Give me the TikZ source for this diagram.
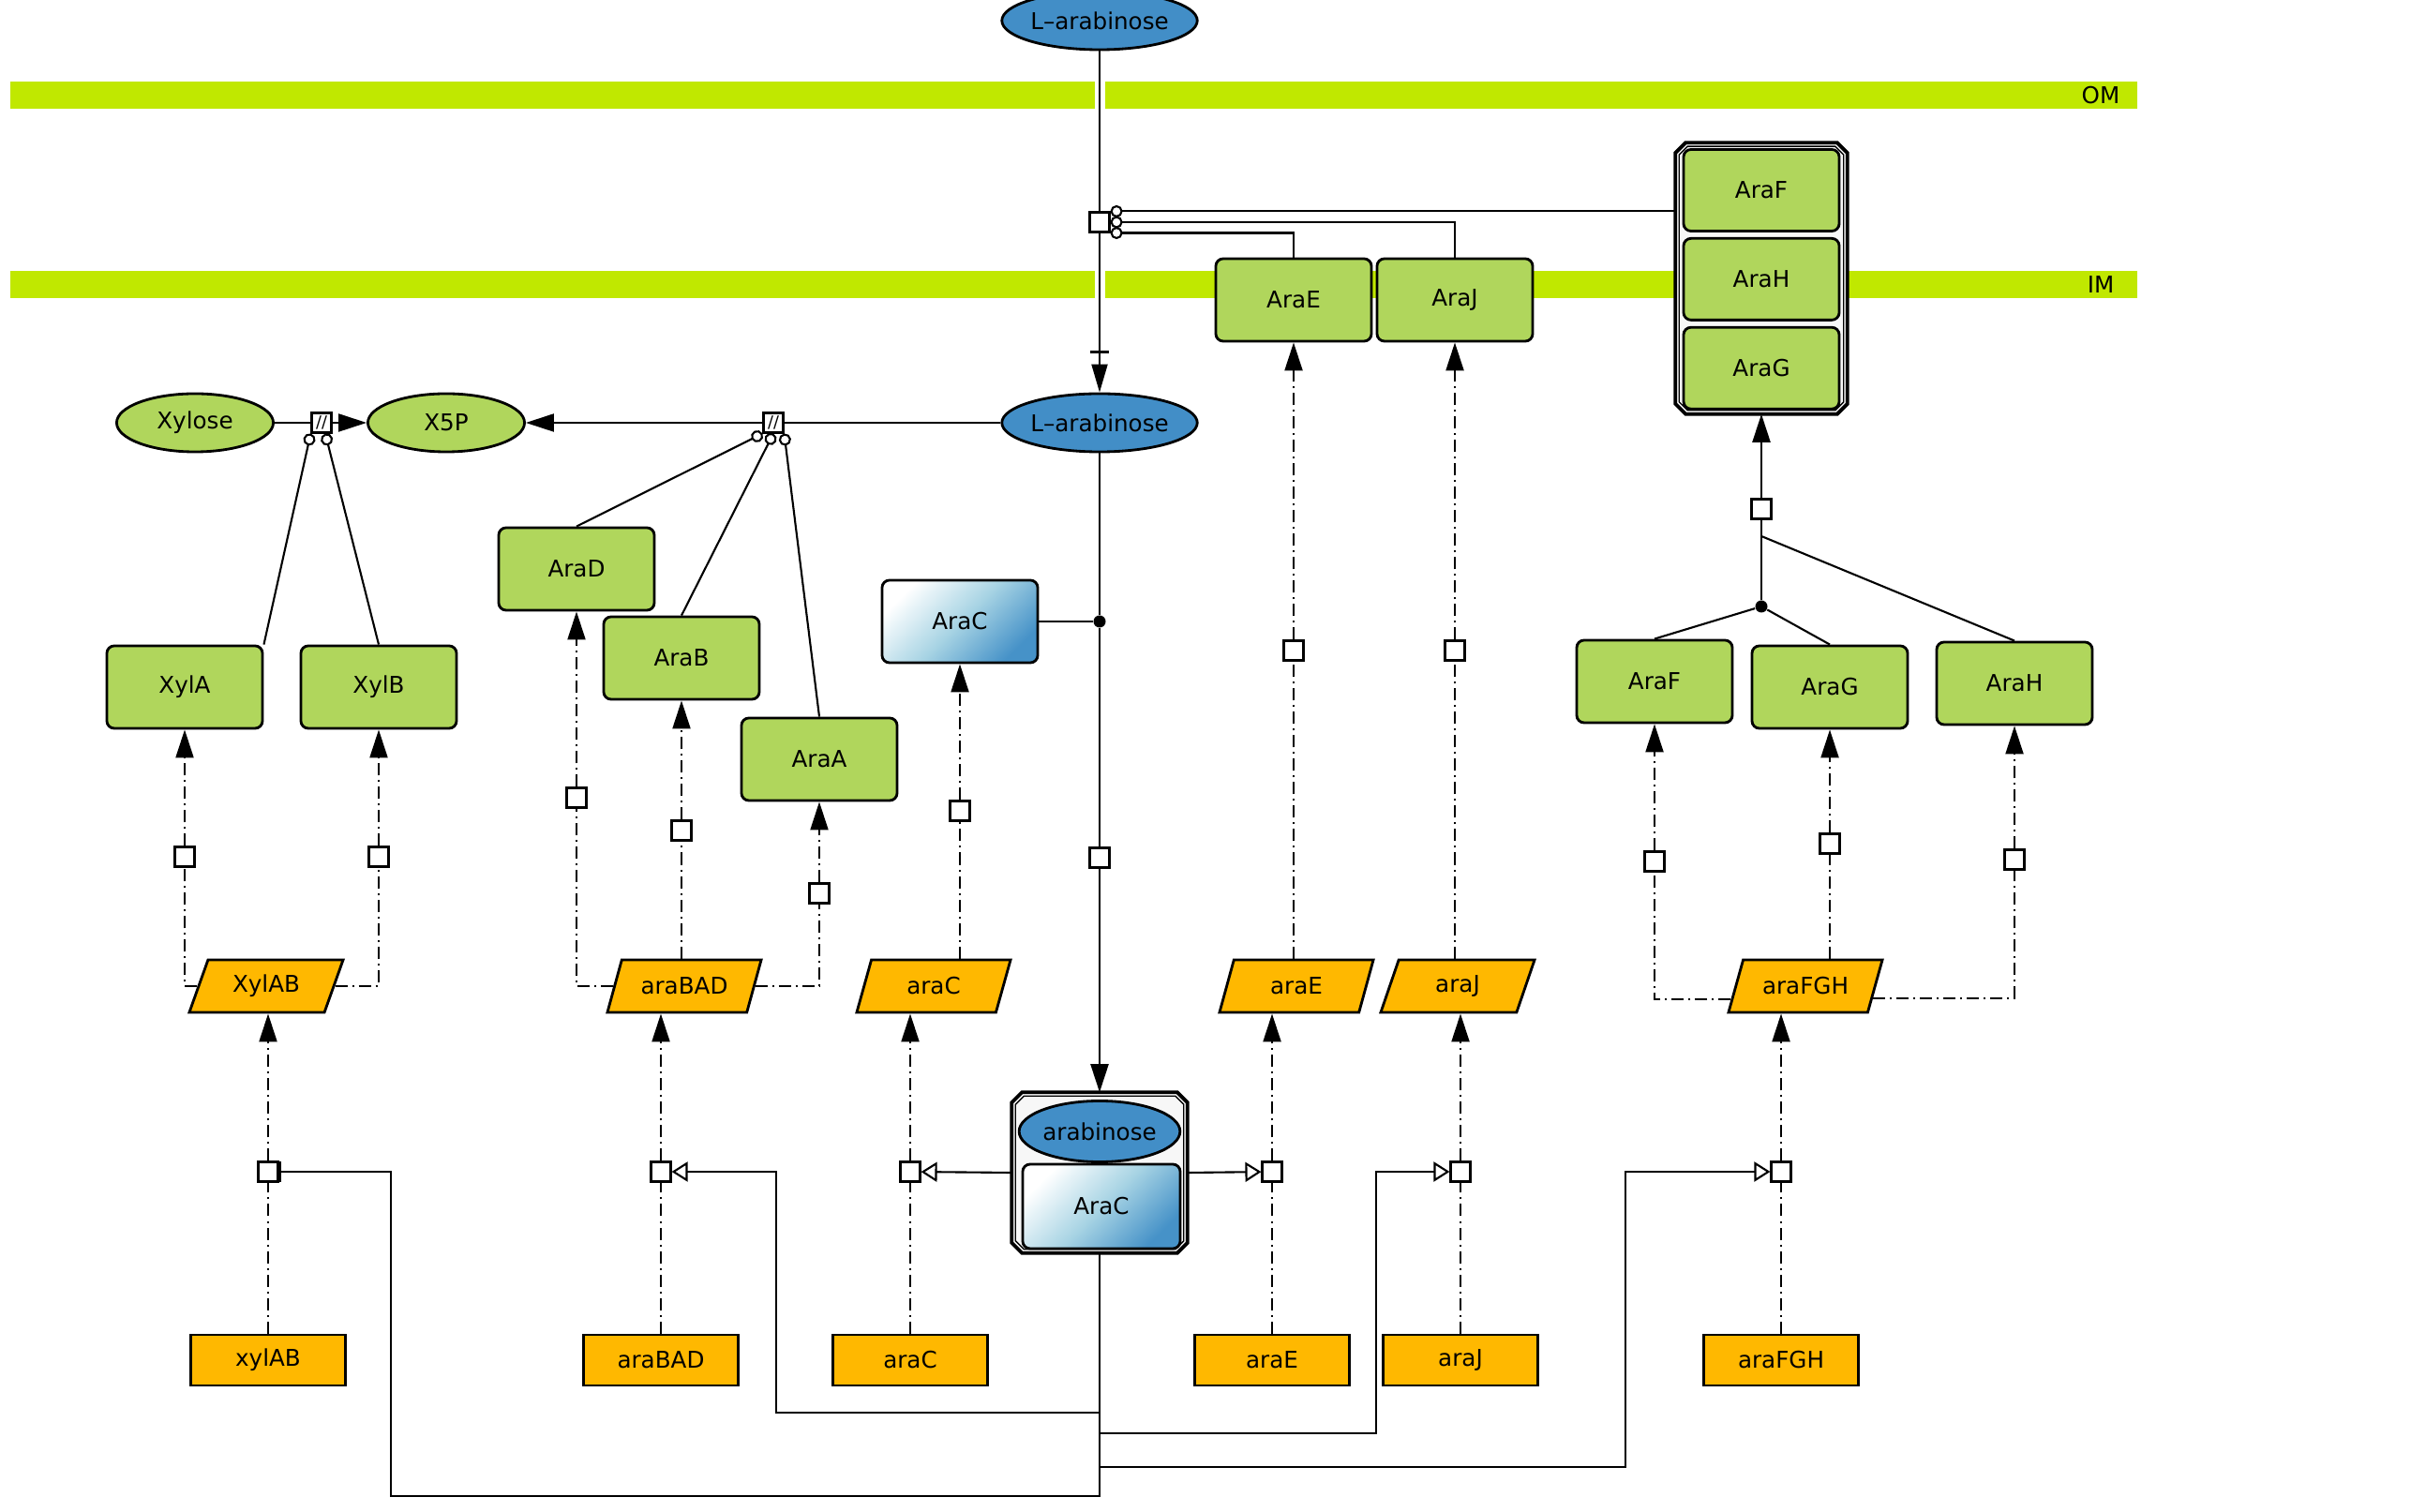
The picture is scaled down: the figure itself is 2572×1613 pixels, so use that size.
\documentclass[tikz,border=0pt]{standalone}
\usepackage{fontspec}
\setmainfont{DejaVu Sans}
\usetikzlibrary{arrows.meta,positioning,shapes.geometric}

\definecolor{protgreen}{RGB}{176,214,92}
\definecolor{memlime}{RGB}{192,232,0}
\definecolor{sugarblue}{RGB}{66,142,199}
\definecolor{geneorange}{RGB}{255,184,0}
\definecolor{aracblue}{RGB}{70,146,200}
\definecolor{araclight}{RGB}{168,212,228}

% cut-corner frame round a node: [draw options]{node}{corner}
\newcommand{\cutframe}[3][]{%
  \draw[#1] ([xshift=#3]#2.north west) -- ([xshift=-#3]#2.north east)
    -- ([yshift=-#3]#2.north east) -- ([yshift=#3]#2.south east)
    -- ([xshift=-#3]#2.south east) -- ([xshift=#3]#2.south west)
    -- ([yshift=#3]#2.south west) -- ([yshift=-#3]#2.north west) -- cycle;}

\begin{document}
\begin{tikzpicture}[x=0.01cm, y=-0.01cm, font=\fontsize{7}{8}\selectfont,
  >={Triangle[length=0.3cm,width=0.19cm]},
  macro/.style={rectangle, rounded corners=0.08cm, draw, line width=0.8pt, fill=protgreen, minimum width=1.66cm, minimum height=0.88cm, inner sep=0pt},
  regul/.style={rectangle, rounded corners=0.08cm, draw, line width=0.8pt, top color=white, bottom color=aracblue, middle color=araclight, shading angle=45, minimum width=1.66cm, minimum height=0.88cm, inner sep=0pt},
  sugar/.style={ellipse, draw, line width=0.8pt, fill=sugarblue, minimum width=1.67cm, minimum height=0.62cm, inner sep=0pt},
  metab/.style={sugar, fill=protgreen},
  cplx/.style={rectangle, inner sep=0pt},
  mrna/.style={trapezium, trapezium left angle=50, trapezium right angle=130, trapezium stretches body, draw, line width=0.8pt, fill=geneorange, minimum width=1.64cm, minimum height=0.56cm, inner sep=0pt},
  gene/.style={rectangle, draw, line width=0.8pt, fill=geneorange, minimum width=1.65cm, minimum height=0.54cm, inner sep=0pt},
  procsq/.style={rectangle, draw, fill=white, line width=0.6pt, minimum size=0.21cm, inner sep=0pt},
  dot/.style={circle, fill=black, minimum size=0.13cm, inner sep=0pt},
  link/.style={line width=0.6pt},
  dd/.style={link, dash pattern=on 0.13cm off 0.05cm on 0.02cm off 0.05cm},
  catal/.style={-{Circle[open, length=0.13cm, fill=white]}},
  stim/.style={-{Triangle[open, length=0.17cm, width=0.21cm, fill=white]}},
  inhib/.style={-{Bar[width=0.22cm]}}]
  \useasboundingbox (0,0) rectangle (2572,1613);
  \fill[white] (0,0) rectangle (2572,1613);

  % membranes
  \foreach \y/\lab in {87/OM, 289/IM} {
    \fill[memlime] (11,\y) rectangle (1168,\y+29);
    \fill[memlime] (1179,\y) rectangle (2280,\y+29);
    \node (mem\lab) at (2241,\y+15) {\lab};
  }

  % metabolites
  \node[sugar] (lara1) at (1173,22) {L--arabinose};
  \node[sugar] (lara2) at (1173,451) {L--arabinose};
  \node[metab] (xylose) at (208,451) {Xylose};
  \node[metab] (x5p) at (476,451) {X5P};
  \node[procsq] (trsq) at (1173,237) {};
  \node[procsq, font=\fontsize{5}{5}\selectfont] (omit1) at (343,451) {//};
  \node[procsq, font=\fontsize{5}{5}\selectfont] (omit2) at (825,451) {//};

  % proteins
  \node[macro] (xylA) at (197,733) {XylA};
  \node[macro] (xylB) at (404,733) {XylB};
  \node[macro] (araD) at (615,607) {AraD};
  \node[macro] (araB) at (727,702) {AraB};
  \node[macro] (araA) at (874,810) {AraA};
  \node[regul] (araC) at (1024,663) {AraC};
  \node[macro] (araE) at (1380,320) {AraE};
  \node[macro] (araJ) at (1552,320) {AraJ};
  \node[macro] (araF) at (1765,727) {AraF};
  \node[macro] (araG) at (1952,733) {AraG};
  \node[macro] (araH) at (2149,729) {AraH};

  % transporter complex
  \node[cplx, minimum width=1.82cm, minimum height=2.88cm] (abc) at (1879,297) {};
  \node[cplx, minimum width=1.74cm, minimum height=2.80cm] (abcin) at (abc) {};
  \cutframe[line width=1.1pt, fill=white!97!black]{abc}{0.11cm}
  \cutframe[line width=0.4pt]{abcin}{0.09cm}
  \node[macro, minimum height=0.87cm] (abcF) at (1879,203) {AraF};
  \node[macro, minimum height=0.87cm, below=0.05cm of abcF] (abcH) {AraH};
  \node[macro, minimum height=0.87cm, below=0.05cm of abcH] (abcG) {AraG};

  % arabinose-AraC complex
  \node[cplx, minimum width=1.86cm, minimum height=1.70cm] (arac) at (1173,1251) {};
  \node[cplx, minimum width=1.78cm, minimum height=1.62cm] (aracin) at (arac) {};
  \cutframe[line width=1.1pt, fill=white!97!black]{arac}{0.11cm}
  \cutframe[line width=0.4pt]{aracin}{0.09cm}
  \node[sugar, minimum width=1.68cm, minimum height=0.65cm] (aracS) at (1173,1207) {arabinose};
  \node[regul, minimum width=1.68cm, minimum height=0.90cm] (aracP) at (1175,1287) {AraC};

  % mRNAs
  \node[mrna] (mXyl) at (284,1052) {XylAB};
  \node[mrna] (mBAD) at (730,1052) {araBAD};
  \node[mrna] (mC) at (996,1052) {araC};
  \node[mrna] (mE) at (1383,1052) {araE};
  \node[mrna] (mJ) at (1555,1052) {araJ};
  \node[mrna] (mFGH) at (1926,1052) {araFGH};

  % genes and transcription
  \foreach \g/\x/\lab in {Xyl/286/xylAB, BAD/705/araBAD, C/971/araC, E/1357/araE, J/1558/araJ, FGH/1900/araFGH} {
    \node[gene] (g\g) at (\x,1451) {\lab};
    \node[procsq] (tx\g) at (\x,1250) {};
    \draw[dd] (g\g) -- (tx\g);
    \draw[dd,->] (tx\g) -- (tx\g |- m\g.south);
  }

  % translation
  \node[procsq] (tlXylA) at (197,914) {};
  \node[procsq] (tlXylB) at (404,914) {};
  \node[procsq] (tlD) at (615,851) {};
  \node[procsq] (tlB) at (727,886) {};
  \node[procsq] (tlA) at (874,953) {};
  \node[procsq] (tlC) at (1024,865) {};
  \node[procsq] (tlE) at (1380,694) {};
  \node[procsq] (tlJ) at (1552,694) {};
  \node[procsq] (tlF) at (1765,919) {};
  \node[procsq] (tlG) at (1952,900) {};
  \node[procsq] (tlH) at (2149,917) {};
  \draw[dd] (mXyl.west) -| (tlXylA);
  \draw[dd,->] (tlXylA) -- (xylA);
  \draw[dd] (mXyl.east) -| (tlXylB);
  \draw[dd,->] (tlXylB) -- (xylB);
  \draw[dd] (mBAD.west) -| (tlD);
  \draw[dd,->] (tlD) -- (araD);
  \draw[dd] (tlB |- mBAD.north) -- (tlB);
  \draw[dd,->] (tlB) -- (araB);
  \draw[dd] (mBAD.east) -| (tlA);
  \draw[dd,->] (tlA) -- (araA);
  \draw[dd] (tlC |- mC.north) -- (tlC);
  \draw[dd,->] (tlC) -- (araC);
  \draw[dd] (tlE |- mE.north) -- (tlE);
  \draw[dd,->] (tlE) -- (araE);
  \draw[dd] (tlJ |- mJ.north) -- (tlJ);
  \draw[dd,->] (tlJ) -- (araJ);
  \draw[dd] (mFGH.190) -| (tlF);
  \draw[dd,->] (tlF) -- (araF);
  \draw[dd] (tlG |- mFGH.north) -- (tlG);
  \draw[dd,->] (tlG) -- (araG);
  \draw[dd] (mFGH.-10) -| (tlH);
  \draw[dd,->] (tlH) -- (araH);

  % transport and metabolism
  \draw[link] (lara1) -- (trsq);
  \draw[link, -{Bar[width=0.2cm, sep=0.12cm] Triangle[length=0.3cm, width=0.17cm]}] (trsq) -- (lara2);
  \draw[link, catal] (abc.west |- trsq.north east) -- (trsq.north east);
  \draw[link, catal] (araJ.north) |- (trsq.east);
  \draw[link, catal] (araE.north) |- (trsq.south east);
  \draw[link] (lara2) -- (omit2);
  \draw[link, ->] (omit2) -- (x5p);
  \draw[link] (xylose) -- (omit1);
  \draw[link, ->] (omit1) -- (x5p);
  \draw[link, catal] (xylA.north east) -- (omit1.south west);
  \draw[link, catal] (xylB.north) -- ([xshift=0.04cm]omit1.south);
  \draw[link, catal] (araD.north) -- (omit2.south west);
  \draw[link, catal] (araB.north) -- (omit2.south);
  \draw[link, catal] (araA.north) -- (omit2.south east);

  % AraC binding
  \node[dot] (jc) at (1173,663) {};
  \node[procsq] (csq) at (1173,915) {};
  \draw[link] (lara2) -- (jc);
  \draw[link] (araC) -- (jc);
  \draw[link] (jc) -- (csq);
  \draw[link, ->] (csq) -- (arac);

  % AraFGH assembly
  \node[dot] (jr) at (1879,647) {};
  \coordinate (jrH) at (1879,572);
  \node[procsq] (asq) at (1879,543) {};
  \draw[link] (araF.north) -- (jr);
  \draw[link] (araG.north) -- (jr);
  \draw[link] (araH.north) -- (jrH);
  \draw[link] (jr) -- (asq);
  \draw[link, ->] (asq) -- (abc);

  % regulation by arabinose-AraC
  \coordinate (b1) at (828,1507);
  \coordinate (b2) at (1468,1529);
  \coordinate (b3) at (1734,1565);
  \coordinate (b4) at (417,1596);
  \draw[link, stim] (arac.west) -- (txC);
  \draw[link, stim] (arac.east) -- (txE);
  \draw[link, stim] (arac.south) |- (b1) |- (txBAD);
  \draw[link, stim] (arac.south) |- (b2) |- (txJ);
  \draw[link, stim] (arac.south) |- (b3) |- (txFGH);
  \draw[link, inhib] (arac.south) |- (b4) |- (txXyl);
\end{tikzpicture}
\end{document}
